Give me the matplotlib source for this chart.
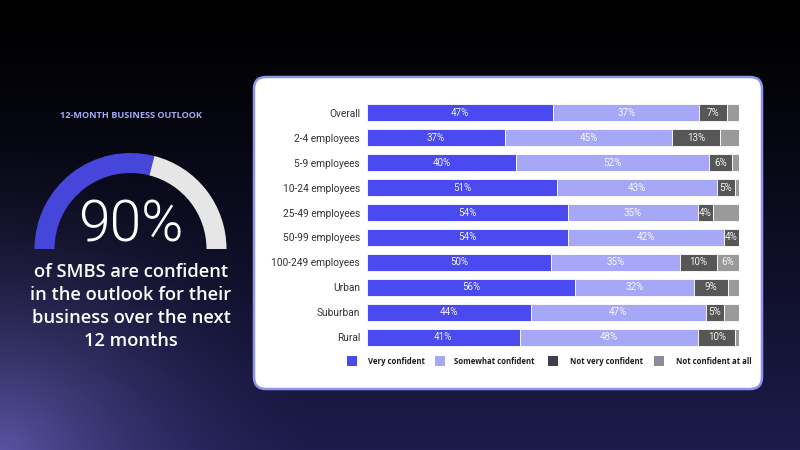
import numpy as np
import matplotlib
matplotlib.use("Agg")
import matplotlib.pyplot as plt
from matplotlib.patches import FancyBboxPatch, Wedge, Rectangle

# data
categories = ["Overall", "2-4 employees", "5-9 employees", "10-24 employees",
               "25-49 employees", "50-99 employees", "100-249 employees",
               "Urban", "Suburban", "Rural"]
very_confident = [47, 37, 40, 51, 54, 54, 50, 56, 44, 41]
somewhat_confident = [37, 45, 52, 43, 35, 42, 35, 32, 47, 48]
not_very_confident = [7, 13, 6, 5, 4, 4, 10, 9, 5, 10]
not_at_all = [3, 5, 2, 1, 7, 0, 6, 3, 4, 1]
not_at_all_labels = ["", "", "", "", "", "", "6%", "", "", ""]
series_names = ["Very confident", "Somewhat confident",
                "Not very confident", "Not confident at all"]
headline = "90%"
gauge_share = 0.58  # blue part of the arc as drawn

colors = ["#4a4af0", "#a6a8f7", "#575757", "#9a9a9a"]
legend_colors = ["#4a4af0", "#a6a8f7", "#3d3f4a", "#8a8d99"]

W, H = 800, 450
fig = plt.figure(figsize=(W / 100, H / 100), dpi=100)

# background gradient
bg = fig.add_axes([0, 0, 1, 1])
yy, xx = np.mgrid[0:H, 0:W]
t = (yy / H) ** 1.2
img = np.zeros((H, W, 3))
img += t[..., None] * np.array([0.11, 0.11, 0.30])
d = np.hypot(xx - 0, yy - H)
glow = np.clip(1 - d / 330, 0, 1) ** 1.8
img += glow[..., None] * np.array([0.24, 0.22, 0.34])
img = np.clip(img, 0, 1)
bg.imshow(img, extent=[0, W, H, 0], aspect="auto")
bg.set_xlim(0, W)
bg.set_ylim(H, 0)
bg.axis("off")

# card
card = FancyBboxPatch((254, 77), 508, 312, boxstyle="round,pad=0,rounding_size=12",
                      facecolor="white", edgecolor="#8f95ee", linewidth=1.8)
bg.add_patch(card)

# gauge (y axis inverted: upper half is 180..360)
cx, cy, r_out, width = 130.5, 249, 96, 20
split = 180 + 180 * gauge_share
bg.add_patch(Wedge((cx, cy), r_out, 180, split, width=width, facecolor="#4646da"))
bg.add_patch(Wedge((cx, cy), r_out, split, 360, width=width, facecolor="#e6e6e6"))

left_font = ["Open Sans", "DejaVu Sans"]
bg.text(131, 115, "12-MONTH BUSINESS OUTLOOK", color="#a3a9f2", fontsize=6.6,
        fontweight="bold", ha="center", va="center", family=left_font)
bg.text(131, 226, headline, color="white", fontsize=41, fontweight=300,
        ha="center", va="center", family=["Roboto", "DejaVu Sans"])
body = ["of SMBS are confident", "in the outlook for their",
        "business over the next", "12 months"]
for i, line in enumerate(body):
    bg.text(131, 272 + i * 23, line, color="white", fontsize=13.2,
            fontweight="semibold", ha="center", va="center", family=left_font)

# bar chart
ax = fig.add_axes([367 / W, 1 - 349.5 / H, 372 / W, 249 / H])
ax.set_facecolor("none")
series = [very_confident, somewhat_confident, not_very_confident, not_at_all]
totals = [sum(v) for v in zip(*series)]
y = np.arange(len(categories))
left = np.zeros(len(categories))
for k, vals in enumerate(series):
    share = np.array(vals) / np.array(totals) * 100
    ax.barh(y, share, left=left, height=0.68, color=colors[k],
            edgecolor="white", linewidth=0.6)
    for i, v in enumerate(vals):
        if k < 3:
            lab = f"{v}%" if v > 0 else ""
        else:
            lab = not_at_all_labels[i]
        if lab:
            ax.text(left[i] + share[i] / 2, y[i], lab, color="white",
                    fontsize=7, ha="center", va="center",
                    family=["Roboto", "DejaVu Sans"], alpha=0.92)
    left += share

ax.set_xlim(0, 100)
ax.set_ylim(len(categories) - 0.5, -0.5)
ax.set_yticks(y)
ax.set_yticklabels(categories, fontsize=7.3, color="#333333",
                   family=["Roboto", "DejaVu Sans"])
ax.tick_params(axis="y", length=0, pad=5)
ax.set_xticks([])
for s in ax.spines.values():
    s.set_visible(False)

# legend
sq_x = [347, 435, 548, 654]
txt_x = [368, 454, 570, 676]
for k, name in enumerate(series_names):
    bg.add_patch(Rectangle((sq_x[k], 356), 10, 10, facecolor=legend_colors[k],
                           edgecolor="none"))
    bg.text(txt_x[k], 361, name, fontsize=5.6, fontweight="bold", color="#1a1a22",
            ha="left", va="center", family=left_font)

fig.savefig("out.png", dpi=100)
